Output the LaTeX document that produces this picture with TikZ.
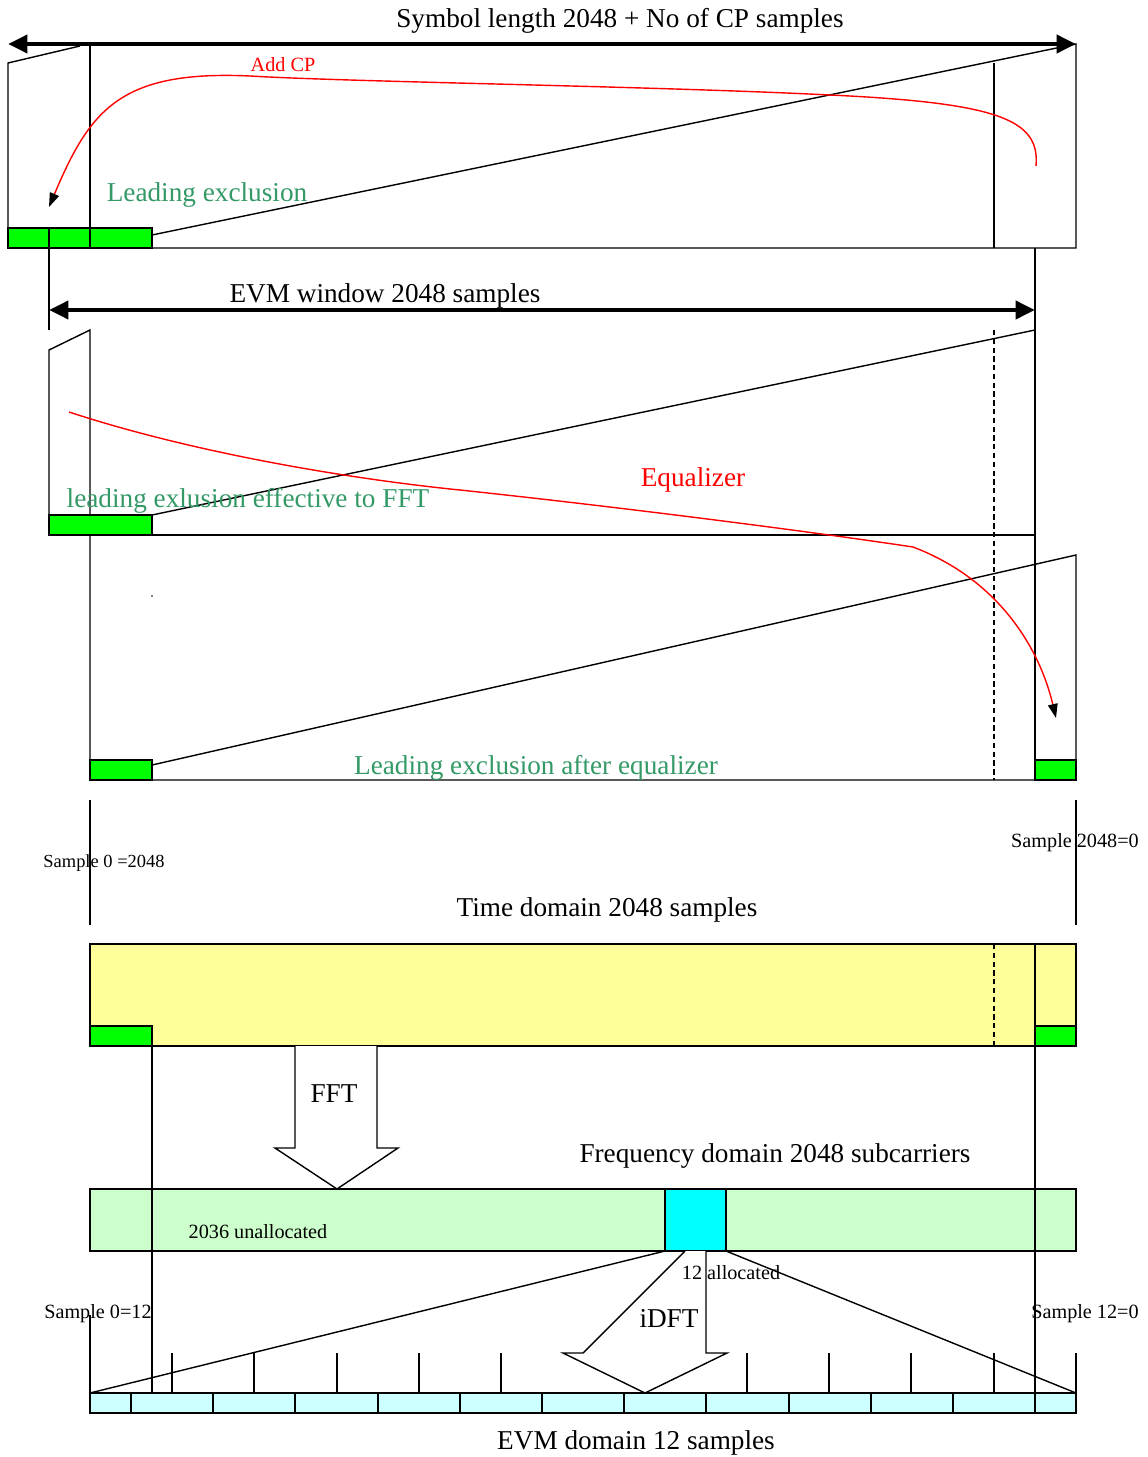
\documentclass[tikz,border=0pt]{standalone}
\usepackage{fontspec}
\setmainfont{Liberation Serif}
\usetikzlibrary{arrows.meta}
\definecolor{exclc}{HTML}{00FF00}
\definecolor{labelc}{HTML}{339966}
\definecolor{timec}{HTML}{FFFF99}
\definecolor{freqc}{HTML}{CCFFCC}
\definecolor{allocc}{HTML}{00FFFF}
\definecolor{evmc}{HTML}{CCFFFF}
\tikzset{
  frame/.style={draw=black, line width=0.8pt},
  gap/.style={frame, dash pattern=on 3pt off 2pt},
  span/.style={line width=2.8pt, {Triangle[length=11pt,width=10pt]}-{Triangle[length=11pt,width=10pt]}},
  excl/.style={draw=black, line width=0.8pt, fill=exclc},
  flow/.style={draw=red, line width=0.8pt, -{Triangle[length=8pt,width=5.5pt,color=black]}},
  blockarrow/.style={draw=black, line width=0.8pt, fill=white, line join=miter},
  bigtxt/.style={inner sep=0pt, yshift=-1.7pt, font=\fontsize{15.5}{18}\selectfont},
  smalltxt/.style={inner sep=0pt, yshift=-1pt, font=\fontsize{11.5}{13}\selectfont},
  greentxt/.style={bigtxt, text=labelc},
}

\begin{document}
\begin{tikzpicture}[x=0.02cm, y=-0.02cm]
\useasboundingbox (0,0) rectangle (1148,1457);
% symbol with cyclic prefix
\coordinate (symL) at (8,44);
\coordinate (symR) at (1076,44);
\draw[frame] (8,248) -- (8,63) -- (80,46);
\draw[frame] (8,248) -- (1076,248) -- (1076,44) -- (152,235);
\draw[frame] (994,63) -- (994,248);
\draw[excl] (8,228) rectangle (152,248);
\draw[frame] (90,44) -- (90,248);
\draw[frame] (49,228) -- (49,330);
\draw[span] (symL) -- (symR);
\node[bigtxt] (symlen) at (620,18) {Symbol length 2048 + No of CP samples};
\coordinate (cpfrom) at (1036,166);
\coordinate (cpto) at (49,207);
\draw[flow] (cpfrom) .. controls (1040,120) and (1000,103) .. (830,95) .. controls (650,86) and (350,82) .. (250,76) .. controls (120,70) and (90,110) .. (cpto);
\node[smalltxt, text=red] (addcp) at (283,63) {Add CP};
\node[greentxt] (lead) at (207,192) {Leading exclusion};

% EVM window
\coordinate (winL) at (49,310);
\coordinate (winR) at (1035,310);
\draw[frame] (49,535) -- (49,350) -- (90,330) -- (90,780);
\draw[frame] (49,535) -- (1035,535);
\draw[frame] (1035,248) -- (1035,780);
\draw[frame] (152,515) -- (1035,330);
\draw[gap] (994,330) -- (994,780);
\draw[excl] (49,515) rectangle (152,535);
\draw[span] (winL) -- (winR);
\node[bigtxt] (evmwin) at (385,293) {EVM window 2048 samples};
\node[greentxt] (leadfft) at (248,498) {leading exlusion effective to FFT};

% after equalizer
\draw[frame] (90,780) -- (1076,780) -- (1076,555) -- (152,765);
\draw[excl] (90,760) rectangle (152,780);
\draw[excl] (1035,760) rectangle (1076,780);
\fill (152,596) circle (0.8);
\coordinate (eqfrom) at (69,412);
\coordinate (eqto) at (1056,718);
\draw[flow] (eqfrom) .. controls (200,455) and (360,480) .. (460,490) .. controls (610,506) and (800,530) .. (913,547) .. controls (1000,580) and (1040,650) .. (eqto);
\node[bigtxt, text=red] (equal) at (693,477) {Equalizer};
\node[greentxt] (leadeq) at (536,765) {Leading exclusion after equalizer};

% time domain
\draw[frame] (90,800) -- (90,925);
\draw[frame] (1076,800) -- (1076,925);
\node[inner sep=0pt, yshift=-1pt, font=\fontsize{10.5}{12}\selectfont] (samp0) at (104,861) {Sample 0 =2048};
\node[smalltxt] (samp2048) at (1075,841) {Sample 2048=0};
\node[bigtxt] (timedom) at (607,907) {Time domain 2048 samples};
\draw[frame, fill=timec] (90,944) rectangle (1076,1046);
\draw[gap] (994,944) -- (994,1046);
\draw[excl] (90,1026) rectangle (152,1046);
\draw[excl] (1035,1026) rectangle (1076,1046);

% FFT
\draw[blockarrow] (295,1046) -- (295,1148) -- (275,1148) -- (337,1189) -- (398,1148) -- (377,1148) -- (377,1046);
\node[bigtxt] (fft) at (334,1091) {FFT};

% frequency domain
\node[bigtxt] (freqdom) at (775,1153) {Frequency domain 2048 subcarriers};
\draw[frame, fill=freqc] (90,1189) rectangle (1076,1251);
\draw[frame, fill=allocc] (665,1189) rectangle (726,1251);
\node[smalltxt] (unalloc) at (258,1230) {2036 unallocated};
\draw[frame] (665,1251) -- (90,1393);
\draw[frame] (726,1251) -- (1076,1393);

% EVM domain
\foreach \a/\b in {90/131,131/213,213/295,295/378,378/460,460/542,542/624,624/706,706/789,789/871,871/953,953/1035,1035/1076}
  \draw[frame, fill=evmc] (\a,1393) rectangle (\b,1413);
\foreach \x in {172,254,337,419,501,747,829,911,994,1076}
  \draw[frame] (\x,1353) -- (\x,1393);
\draw[frame] (90,1315) -- (90,1393);
\draw[frame] (152,1046) -- (152,1393);
\draw[frame] (1035,944) -- (1035,1413);
\draw[blockarrow] (685,1251) -- (583,1353) -- (563,1353) -- (645,1393) -- (727,1353) -- (706,1353) -- (706,1251);
\node[smalltxt] (alloc) at (731,1271) {12 allocated};
\node[bigtxt] (idft) at (669,1316) {iDFT};
\node[smalltxt] (samp012) at (98,1312) {Sample 0=12};
\node[smalltxt] (samp120) at (1085,1312) {Sample 12=0};
\node[bigtxt] (evmdom) at (636,1440) {EVM domain 12 samples};
\end{tikzpicture}
\end{document}
